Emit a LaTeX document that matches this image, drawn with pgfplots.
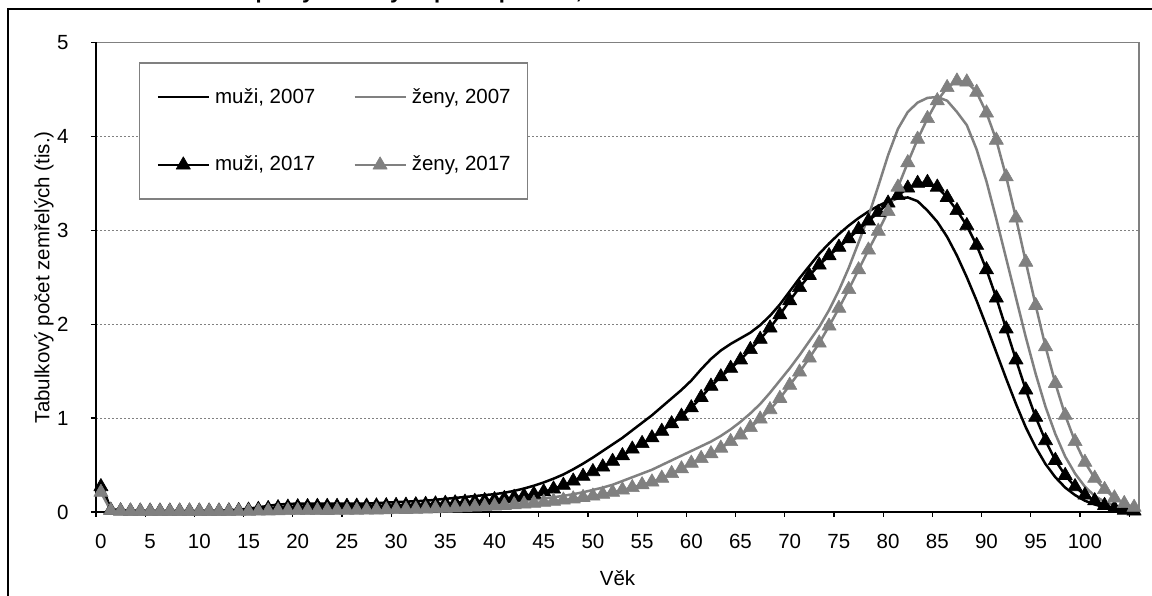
\documentclass[border=0pt]{standalone}
\usepackage{fontspec}
\setmainfont{Liberation Sans}
\usepackage{pgfplots}
\usepackage{pgfplotstable}
\pgfplotsset{compat=1.18}
\definecolor{sgray}{RGB}{128,128,128}
\pgfplotstableread{
age m07 f07 m17 f17
0 0.32 0.26 0.27 0.21
1 0.03 0.02 0.02 0.015
2 0.02 0.012 0.012 0.01
3 0.015 0.01 0.01 0.008
4 0.012 0.009 0.01 0.008
5 0.01 0.008 0.01 0.008
6 0.01 0.008 0.01 0.008
7 0.01 0.008 0.01 0.008
8 0.01 0.008 0.01 0.008
9 0.01 0.008 0.01 0.008
10 0.01 0.008 0.01 0.008
11 0.012 0.008 0.01 0.008
12 0.014 0.009 0.01 0.008
13 0.018 0.009 0.012 0.008
14 0.025 0.01 0.015 0.008
15 0.035 0.012 0.02 0.008
16 0.05 0.015 0.028 0.01
17 0.065 0.018 0.037 0.012
18 0.08 0.02 0.046 0.014
19 0.085 0.02 0.052 0.015
20 0.09 0.02 0.056 0.015
21 0.09 0.02 0.058 0.016
22 0.09 0.022 0.06 0.016
23 0.09 0.022 0.06 0.017
24 0.09 0.024 0.06 0.018
25 0.09 0.025 0.061 0.019
26 0.09 0.027 0.062 0.02
27 0.09 0.028 0.063 0.021
28 0.095 0.03 0.065 0.022
29 0.10 0.032 0.067 0.024
30 0.105 0.035 0.07 0.026
31 0.11 0.038 0.073 0.028
32 0.115 0.041 0.077 0.03
33 0.12 0.045 0.081 0.033
34 0.13 0.049 0.086 0.036
35 0.14 0.054 0.092 0.04
36 0.15 0.06 0.098 0.044
37 0.16 0.066 0.105 0.048
38 0.17 0.073 0.113 0.053
39 0.18 0.08 0.122 0.058
40 0.19 0.088 0.132 0.064
41 0.205 0.097 0.144 0.07
42 0.225 0.107 0.157 0.077
43 0.25 0.118 0.172 0.085
44 0.28 0.13 0.19 0.094
45 0.315 0.143 0.215 0.104
46 0.355 0.157 0.245 0.115
47 0.40 0.172 0.285 0.127
48 0.455 0.19 0.33 0.14
49 0.515 0.21 0.38 0.155
50 0.58 0.235 0.43 0.17
51 0.65 0.26 0.48 0.19
52 0.72 0.29 0.54 0.21
53 0.79 0.33 0.60 0.235
54 0.87 0.37 0.67 0.26
55 0.95 0.41 0.73 0.29
56 1.03 0.45 0.79 0.32
57 1.12 0.50 0.86 0.36
58 1.21 0.55 0.94 0.41
59 1.30 0.60 1.02 0.46
60 1.40 0.65 1.11 0.52
61 1.52 0.70 1.22 0.57
62 1.63 0.75 1.34 0.62
63 1.72 0.81 1.44 0.68
64 1.79 0.88 1.53 0.75
65 1.85 0.96 1.62 0.82
66 1.91 1.05 1.73 0.90
67 1.99 1.15 1.84 0.99
68 2.09 1.27 1.96 1.09
69 2.21 1.40 2.10 1.21
70 2.35 1.53 2.25 1.35
71 2.49 1.67 2.39 1.49
72 2.62 1.82 2.52 1.64
73 2.75 1.97 2.63 1.80
74 2.86 2.15 2.73 1.98
75 2.96 2.36 2.82 2.17
76 3.05 2.60 2.91 2.37
77 3.13 2.87 3.01 2.58
78 3.20 3.15 3.10 2.79
79 3.26 3.47 3.19 2.99
80 3.31 3.80 3.29 3.20
81 3.34 4.08 3.37 3.46
82 3.35 4.26 3.45 3.72
83 3.31 4.36 3.50 3.97
84 3.21 4.41 3.51 4.19
85 3.09 4.42 3.46 4.38
86 2.93 4.38 3.35 4.52
87 2.73 4.26 3.21 4.59
88 2.50 4.12 3.05 4.58
89 2.25 3.86 2.84 4.47
90 1.98 3.52 2.58 4.25
91 1.70 3.12 2.28 3.96
92 1.42 2.70 1.95 3.57
93 1.15 2.28 1.62 3.13
94 0.90 1.86 1.30 2.66
95 0.69 1.47 1.01 2.20
96 0.51 1.12 0.76 1.76
97 0.37 0.83 0.55 1.37
98 0.26 0.59 0.39 1.03
99 0.18 0.41 0.27 0.75
100 0.12 0.27 0.18 0.53
101 0.08 0.17 0.12 0.36
102 0.05 0.11 0.07 0.24
103 0.03 0.07 0.04 0.15
104 0.02 0.04 0.02 0.09
105 0.01 0.02 0.01 0.05
}\datatab
\begin{document}
\begin{tikzpicture}[x=1pt,y=1pt]
\useasboundingbox (0,0) rectangle (576,297.5);
\clip (0,0) rectangle (576,297.5);
\draw[black, line width=0.75pt] (4,-20) rectangle (600,293);
\node[anchor=base west, font=\bfseries\fontsize{11}{13}\selectfont, inner sep=0pt] at (71,298) {Tabulkové počty zemřelých podle pohlaví, 2007 a 2017};
\begin{axis}[
  at={(48pt,41.5pt)}, anchor=south west,
  scale only axis, width=521.5pt, height=234.75pt,
  xmin=-0.5, xmax=105.5, ymin=0, ymax=5,
  axis line style={draw=none},
  xtick={0,5,...,100}, minor xtick={-0.5,4.5,...,104.5},
  ytick={0,1,...,5},
  tick align=outside, xtick pos=bottom, ytick pos=left,
  major tick length=2.5pt, minor tick length=2.5pt,
  tick style={black, line width=0.6pt},
  major x tick style={draw=none},
  ymajorgrids, major grid style={sgray, dash pattern=on 1pt off 1pt, line width=0.4pt},
  clip=false,
  font=\fontsize{10.25}{12}\selectfont,
  /pgf/number format/assume math mode=true,
  xticklabel style={inner sep=0pt, anchor=north, yshift=-8.5pt},
  yticklabel style={inner sep=0pt, anchor=east, xshift=-11pt},
  xlabel={Věk}, ylabel={Tabulkový počet zemřelých (tis.)},
  xlabel style={at={(axis description cs:0.5,-0.1404)}, anchor=center},
  ylabel style={at={(axis description cs:-0.0499,0.5)}, anchor=center},
  legend columns=2,
  legend cell align=left,
  legend style={at={(axis description cs:0.0412,0.9574)}, anchor=north west,
    draw=sgray, line width=0.6pt, fill=white, inner xsep=8.5pt, inner ysep=12.5pt,
    row sep=25pt, font=\fontsize{10.25}{12}\selectfont,
    nodes={inner xsep=0pt, inner ysep=0pt},
    /tikz/every odd column/.append style={column sep=2.5pt},
    /tikz/every even column/.append style={column sep=19pt}},
  legend image code/.code={\draw[mark repeat=2,mark phase=2,#1] plot coordinates {(0pt,0pt) (12.75pt,0pt) (25.5pt,0pt)};},
]
\draw[sgray, line width=0.9pt] (rel axis cs:0,1) -- (rel axis cs:1,1) -- (rel axis cs:1,0);
\draw[black, line width=0.75pt] (rel axis cs:0,1) -- (rel axis cs:0,0) -- (rel axis cs:1,0);
\addplot[black, line width=1.25pt, no marks, line join=round] table[x=age,y=m07]{\datatab};
\addlegendentry{muži, 2007}
\addplot[sgray, line width=1.25pt, no marks, line join=round] table[x=age,y=f07]{\datatab};
\addlegendentry{ženy, 2007}
\addplot[black, line width=1.25pt, line join=round, mark=triangle*, mark size=4.1pt, mark options={solid, fill=black, draw=black, line width=0.3pt}] table[x=age,y=m17]{\datatab};
\addlegendentry{muži, 2017}
\addplot[sgray, line width=1.25pt, line join=round, mark=triangle*, mark size=4.1pt, mark options={solid, fill=sgray, draw=sgray, line width=0.3pt}] table[x=age,y=f17]{\datatab};
\addlegendentry{ženy, 2017}
\end{axis}
\end{tikzpicture}
\end{document}
